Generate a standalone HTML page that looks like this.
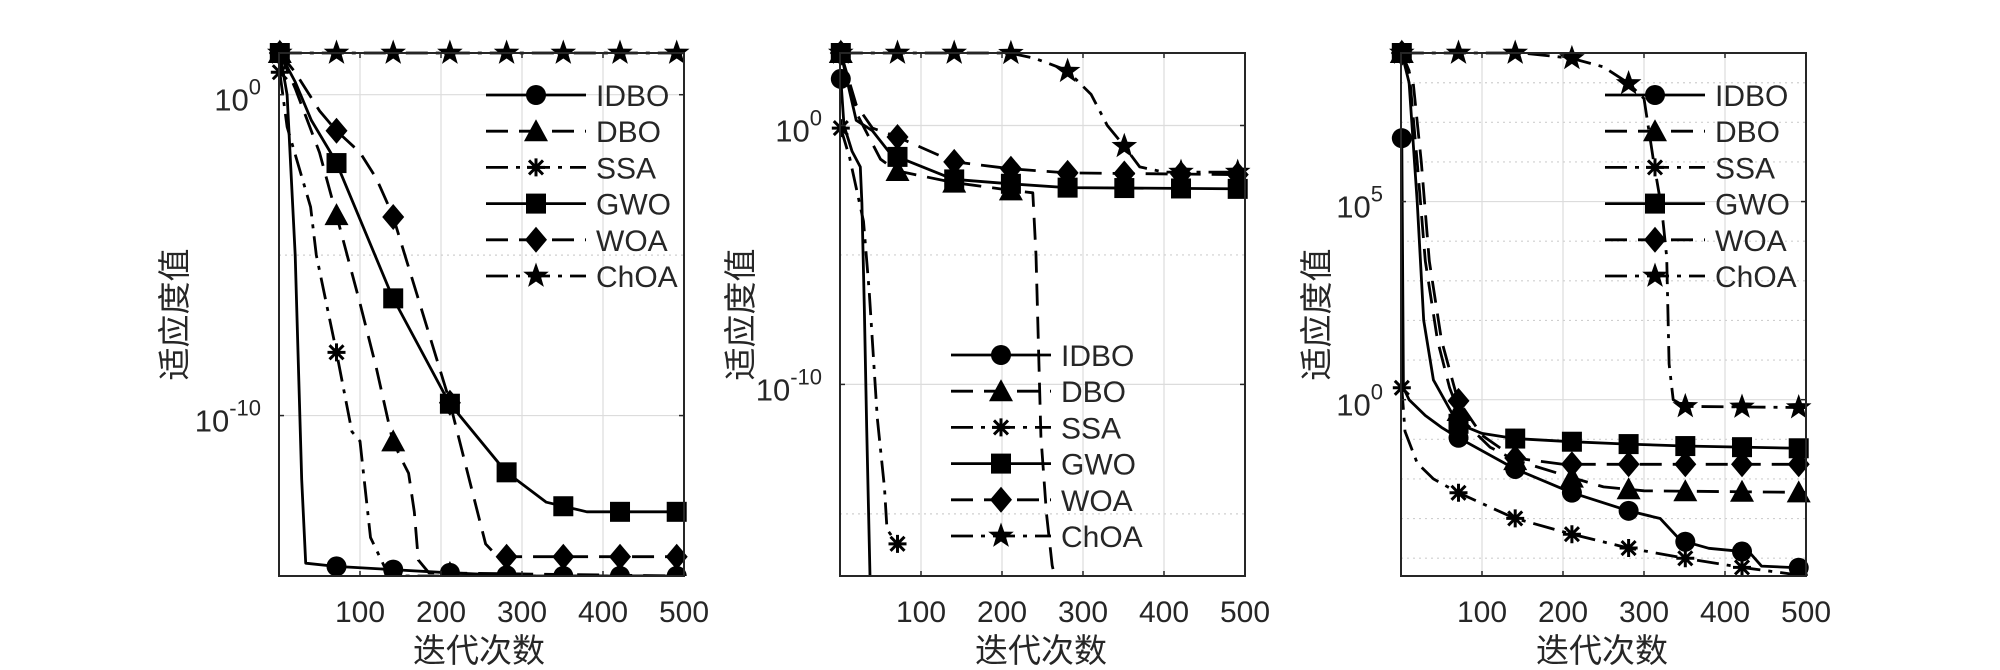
<!DOCTYPE html>
<html><head><meta charset="utf-8">
<style>
html,body{margin:0;padding:0;background:#fff;}
svg{display:block;}
text{font-family:"Liberation Sans","Noto Sans CJK SC",sans-serif;fill:#262626;}
</style></head>
<body>
<svg id="fig" width="2000" height="670" viewBox="0 0 2000 670" xmlns="http://www.w3.org/2000/svg"></svg>
<script>
// ---------- data (iteration, log10 fitness) ----------
const names = ['IDBO','DBO','SSA','GWO','WOA','ChOA'];
const markerIters = [1,71,141,211,281,351,421,491];
// Panel 1
const p1_IDBO_x=[1,10,20,28,33,70,140,210,300,500];
const p1_IDBO_y=[1.3,0,-5,-12,-14.6,-14.7,-14.8,-14.9,-15,-15];
const p1_DBO_x=[1,20,50,70,100,120,140,150,160,167,172,185,500];
const p1_DBO_y=[1.3,0.2,-1.8,-3.66,-6.5,-8.5,-10.75,-11.3,-11.8,-13,-14.5,-14.9,-15];
const p1_SSA_x=[1,10,39,46,70,90,100,113,130,141,500];
const p1_SSA_y=[0.7,-1,-3.5,-5,-7.9,-10.5,-10.8,-13.8,-14.7,-15,-15];
const p1_GWO_x=[1,20,40,70,140,210,280,330,380,500];
const p1_GWO_y=[1.3,0.4,-0.8,-2.07,-6.3,-9.6,-11.75,-12.7,-13,-13];
const p1_WOA_x=[1,20,50,70,100,120,140,170,210,240,255,270,500];
const p1_WOA_y=[1.3,0.7,-0.5,-1.1,-1.8,-2.6,-3.73,-6.2,-9.5,-12.5,-14,-14.4,-14.4];
const p1_ChOA_x=[1,500];
const p1_ChOA_y=[1.3,1.3];
// Panel 2
const p2_IDBO_x=[1,5,15,25,27,30,33,37];
const p2_IDBO_y=[1.8,0,-1,-1.6,-3,-7,-11.7,-17.4];
const p2_DBO_x=[1,20,50,70,140,210,238,242,248,255,262,265];
const p2_DBO_y=[2.8,0.5,-1.3,-1.75,-2.2,-2.5,-2.6,-5,-12,-15,-17,-17.4];
const p2_SSA_x=[1,12,29,36,46,55,58,72];
const p2_SSA_y=[-0.1,-1.25,-3.7,-6.4,-11.3,-14,-15.6,-16.2];
const p2_GWO_x=[1,20,40,60,70,140,210,280,500];
const p2_GWO_y=[2.8,0.2,-0.2,-1,-1.2,-2.08,-2.25,-2.4,-2.45];
const p2_WOA_x=[1,20,40,70,140,210,280,500];
const p2_WOA_y=[2.8,0.8,-0.1,-0.43,-1.4,-1.67,-1.83,-1.9];
const p2_ChOA_x=[1,210,240,280,310,330,350,370,400,500];
const p2_ChOA_y=[2.8,2.8,2.6,2.13,1.2,0,-0.76,-1.6,-1.8,-1.8];
// Panel 3
const p3_IDBO_x=[1,3,10,30,50,70,140,210,280,320,345,380,430,445,500];
const p3_IDBO_y=[6.6,0.3,0,-0.4,-0.7,-0.95,-1.74,-2.34,-2.8,-3.0,-3.55,-3.75,-3.85,-4.2,-4.25];
const p3_DBO_x=[1,10,20,30,45,60,75,110,140,210,250,300,500];
const p3_DBO_y=[8.75,8.3,6,3.5,1.5,0.3,-0.5,-1.2,-1.52,-1.96,-2.2,-2.3,-2.34];
const p3_SSA_x=[1,5,20,40,70,140,210,280,350,420,500];
const p3_SSA_y=[0.3,-0.8,-1.6,-2.0,-2.34,-2.99,-3.39,-3.74,-4.0,-4.23,-4.45];
const p3_GWO_x=[1,10,20,28,40,70,100,140,210,280,350,500];
const p3_GWO_y=[8.75,8,5,2,0.5,-0.6,-0.85,-0.98,-1.06,-1.12,-1.17,-1.23];
const p3_WOA_x=[1,15,25,35,50,70,100,140,200,500];
const p3_WOA_y=[8.75,8,6,3.5,1.5,0,-0.9,-1.47,-1.63,-1.63];
const p3_ChOA_x=[1,150,210,250,280,300,312,322,328,331,336,350,500];
const p3_ChOA_y=[8.75,8.75,8.62,8.4,8.0,7.6,6.0,4.8,3.6,0.9,0,-0.17,-0.2];
// y tick labels (exponents)
const p1_yticks=[0,-10];
const p2_yticks=[0,-10];
const p3_yticks=[0,5];
const xticks=[100,200,300,400,500];

// ---------- drawing ----------
const NS='http://www.w3.org/2000/svg';
const svg=document.getElementById('fig');
function el(tag,attrs,parent){const e=document.createElementNS(NS,tag);for(const k in attrs)e.setAttribute(k,attrs[k]);(parent||svg).appendChild(e);return e;}
const styles={IDBO:{dash:'',marker:'circle'},DBO:{dash:'22,11',marker:'triangle'},SSA:{dash:'22,8,4,8',marker:'asterisk'},GWO:{dash:'',marker:'square'},WOA:{dash:'22,11',marker:'diamond'},ChOA:{dash:'22,8,4,8',marker:'star'}};

function drawMarker(g,type,cx,cy){
  let m;
  if(type==='circle'){m=el('circle',{cx:cx,cy:cy,r:10,fill:'#000'},g);}
  else if(type==='square'){m=el('rect',{x:cx-10,y:cy-10,width:20,height:20,fill:'#000'},g);}
  else if(type==='triangle'){m=el('polygon',{points:`${cx},${cy-12} ${cx-12},${cy+10} ${cx+12},${cy+10}`,fill:'#000'},g);}
  else if(type==='diamond'){m=el('polygon',{points:`${cx},${cy-13} ${cx+11},${cy} ${cx},${cy+13} ${cx-11},${cy}`,fill:'#000'},g);}
  else if(type==='star'){let p=[];for(let i=0;i<10;i++){const r=i%2?5.5:13.5;const a=-Math.PI/2+i*Math.PI/5;p.push((cx+r*Math.cos(a)).toFixed(1)+','+(cy+r*Math.sin(a)).toFixed(1));}m=el('polygon',{points:p.join(' '),fill:'#000'},g);}
  else if(type==='asterisk'){m=el('path',{d:`M${cx-9},${cy}H${cx+9}M${cx},${cy-9}V${cy+9}M${cx-7},${cy-7}L${cx+7},${cy+7}M${cx-7},${cy+7}L${cx+7},${cy-7}`,stroke:'#000','stroke-width':3,fill:'none'},g);}
  
  
}
function interp(xs,ys,x){for(let i=0;i<xs.length-1;i++){if(x>=xs[i]&&x<=xs[i+1]){const t=(x-xs[i])/(xs[i+1]-xs[i]);return ys[i]+t*(ys[i+1]-ys[i]);}}return null;}

function panel(cfg){
  const {id,L,R,T,B,ymin,ymax,yticks,series,legend,minor,ylabelX,xlabelX}=cfg;
  const g=el('g',{});
  
  
  const X=v=>L+(R-L)*v/500;
  const Y=v=>B-(B-T)*(v-ymin)/(ymax-ymin);
  xticks.forEach(t=>{if(t<500){const gl=el('line',{x1:X(t),x2:X(t),y1:T,y2:B,stroke:'#dcdcdc','stroke-width':1.2},g);}});
  minor.forEach(v=>{const gl=el('line',{x1:L,x2:R,y1:Y(v),y2:Y(v),stroke:'#cfcfcf','stroke-width':1.2,'stroke-dasharray':'2,4'},g);});
  yticks.forEach(v=>{const gl=el('line',{x1:L,x2:R,y1:Y(v),y2:Y(v),stroke:'#dcdcdc','stroke-width':1.2},g);});
  const clip=el('clipPath',{id:id+'-clip'},g);el('rect',{x:L-14,y:T-16,width:R-L+30,height:B-T+16},clip);
  const sg=el('g',{'clip-path':`url(#${id}-clip)`},g);
  names.forEach(n=>{
    const xs=series[n][0],ys=series[n][1];
    const pts=xs.map((x,i)=>X(x).toFixed(1)+','+Y(Math.max(ys[i],ymin)).toFixed(1)).join(' ');
    const pl=el('polyline',{points:pts,fill:'none',stroke:'#000','stroke-width':2.8,'stroke-dasharray':styles[n].dash,'stroke-linejoin':'round'},sg);
    
    
    markerIters.forEach(mi=>{const v=interp(xs,ys,mi);if(v!==null)drawMarker(sg,styles[n].marker,X(mi),Y(Math.max(v,ymin)));});
  });
  const bx=el('rect',{x:L,y:T,width:R-L,height:B-T,fill:'none',stroke:'#262626','stroke-width':2},g);
  
  xticks.forEach(t=>{
    el('line',{x1:X(t),x2:X(t),y1:B,y2:B-5,stroke:'#262626','stroke-width':1.5},g);
    el('line',{x1:X(t),x2:X(t),y1:T,y2:T+5,stroke:'#262626','stroke-width':1.5},g);
    const tx=el('text',{x:X(t),y:B+46,'font-size':30,'text-anchor':'middle'},g);tx.textContent=t;
    
  });
  yticks.forEach(v=>{
    el('line',{x1:L,x2:L+5,y1:Y(v),y2:Y(v),stroke:'#262626','stroke-width':1.5},g);
    el('line',{x1:R,x2:R-5,y1:Y(v),y2:Y(v),stroke:'#262626','stroke-width':1.5},g);
    const tx=el('text',{x:L-18,y:Y(v)+16,'font-size':31,'text-anchor':'end'},g);
    const a=el('tspan',{},tx);a.textContent='10';
    const b=el('tspan',{dy:-16,'font-size':22},tx);b.textContent=String(v);
    
  });
  const yl=el('text',{x:ylabelX,y:(T+B)/2,'font-size':33,'text-anchor':'middle',transform:`rotate(-90 ${ylabelX} ${(T+B)/2})`},g);
  yl.textContent='适应度值';
  const xl=el('text',{x:xlabelX,y:662,'font-size':33,'text-anchor':'middle'},g);
  xl.textContent='迭代次数';
  const lg=el('g',{},g);
  names.forEach((n,i)=>{
    const y=legend.y+i*36.2;
    const e=el('g',{},lg);
    el('line',{x1:legend.x,x2:legend.x+100,y1:y,y2:y,stroke:'#000','stroke-width':2.8,'stroke-dasharray':styles[n].dash},e);
    drawMarker(e,styles[n].marker,legend.x+50,y);
    const t=el('text',{x:legend.x+110,y:y+11,'font-size':30},e);t.textContent=n;
  });
}
function S(p){return {IDBO:[p.IDBO_x,p.IDBO_y],DBO:[p.DBO_x,p.DBO_y],SSA:[p.SSA_x,p.SSA_y],GWO:[p.GWO_x,p.GWO_y],WOA:[p.WOA_x,p.WOA_y],ChOA:[p.ChOA_x,p.ChOA_y]};}
panel({id:'panel-1',L:279,R:684,T:53,B:576,ymin:-15,ymax:1.3,yticks:p1_yticks,minor:[-5,-15],ylabelX:186,xlabelX:479,legend:{x:486,y:95},
  series:S({IDBO_x:p1_IDBO_x,IDBO_y:p1_IDBO_y,DBO_x:p1_DBO_x,DBO_y:p1_DBO_y,SSA_x:p1_SSA_x,SSA_y:p1_SSA_y,GWO_x:p1_GWO_x,GWO_y:p1_GWO_y,WOA_x:p1_WOA_x,WOA_y:p1_WOA_y,ChOA_x:p1_ChOA_x,ChOA_y:p1_ChOA_y})});
panel({id:'panel-2',L:840,R:1245,T:53,B:576,ymin:-17.4,ymax:2.8,yticks:p2_yticks,minor:[-5,-15],ylabelX:752,xlabelX:1041,legend:{x:951,y:355},
  series:S({IDBO_x:p2_IDBO_x,IDBO_y:p2_IDBO_y,DBO_x:p2_DBO_x,DBO_y:p2_DBO_y,SSA_x:p2_SSA_x,SSA_y:p2_SSA_y,GWO_x:p2_GWO_x,GWO_y:p2_GWO_y,WOA_x:p2_WOA_x,WOA_y:p2_WOA_y,ChOA_x:p2_ChOA_x,ChOA_y:p2_ChOA_y})});
panel({id:'panel-3',L:1401,R:1806,T:53,B:576,ymin:-4.45,ymax:8.75,yticks:p3_yticks,minor:[-4,-3,-2,-1,1,2,3,4,6,7,8],ylabelX:1328,xlabelX:1602,legend:{x:1605,y:95},
  series:S({IDBO_x:p3_IDBO_x,IDBO_y:p3_IDBO_y,DBO_x:p3_DBO_x,DBO_y:p3_DBO_y,SSA_x:p3_SSA_x,SSA_y:p3_SSA_y,GWO_x:p3_GWO_x,GWO_y:p3_GWO_y,WOA_x:p3_WOA_x,WOA_y:p3_WOA_y,ChOA_x:p3_ChOA_x,ChOA_y:p3_ChOA_y})});
</script>
</body></html>
